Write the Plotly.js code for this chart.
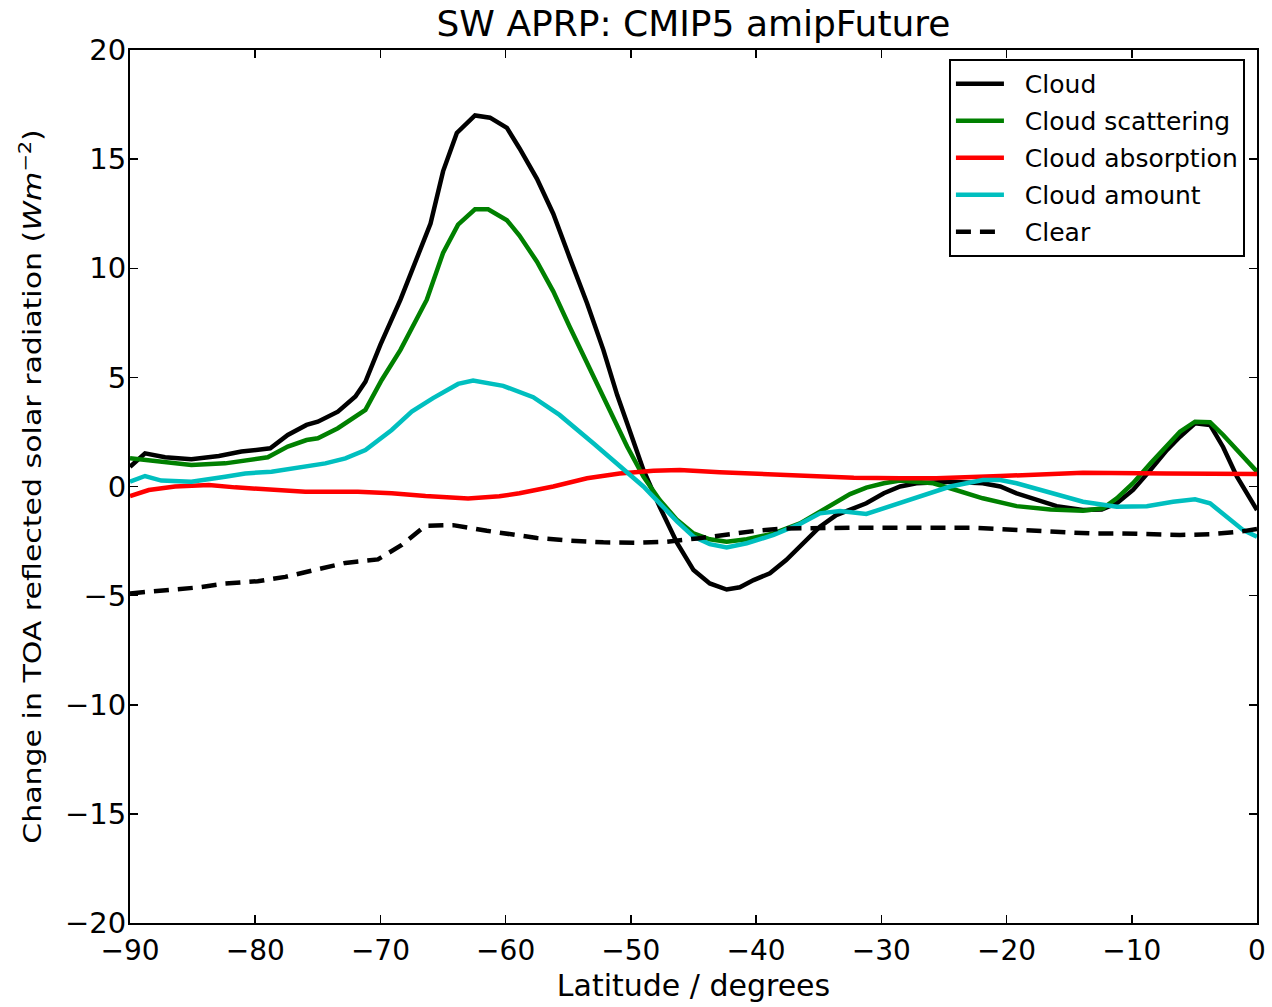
<!DOCTYPE html>
<html>
<head>
<meta charset="utf-8">
<script src="https://cdn.plot.ly/plotly-3.0.1.min.js"></script>
<style>
  html, body { margin: 0; padding: 0; background: #fff; }
  #chart { width: 1272px; height: 1007px; }
</style>
</head>
<body>
<div id="chart"></div>
<script>
// Shortwave APRP decomposition, zonal mean change (W m-2) vs latitude

const latCloud = [-90, -88.8, -87.2, -85.1, -82.9, -81.1, -78.8, -77.4, -75.9, -75.0, -73.4, -72.0, -71.2, -70.0, -68.4, -67.1, -66.0, -65.0, -63.9, -62.45, -61.25, -59.9, -58.9, -57.5, -56.2, -54.9, -53.5, -52.2, -51.1, -50.3, -49.0, -47.7, -46.3, -45.0, -43.7, -42.35, -41.3, -40.2, -38.9, -37.6, -36.2, -34.9, -33.6, -32.0, -31.2, -29.8, -28.5, -27.2, -24.5, -21.9, -20.5, -19.2, -17.6, -16.0, -13.9, -12.4, -11.2, -9.9, -8.5, -7.2, -6.15, -4.95, -3.75, -2.7, -1.6, -0.8, 0];
const cloud = [0.9, 1.52, 1.34, 1.25, 1.4, 1.6, 1.75, 2.36, 2.82, 2.97, 3.43, 4.12, 4.8, 6.5, 8.56, 10.4, 12.05, 14.44, 16.2, 17.0, 16.9, 16.43, 15.5, 14.1, 12.5, 10.5, 8.4, 6.26, 4.2, 2.9, 0.76, -0.93, -2.6, -3.83, -4.44, -4.72, -4.62, -4.29, -3.98, -3.37, -2.6, -1.84, -1.31, -0.95, -0.77, -0.31, 0, 0.15, 0.22, 0.15, 0, -0.31, -0.62, -0.9, -1.08, -1.05, -0.77, -0.16, 0.76, 1.67, 2.28, 2.9, 2.82, 1.8, 0.45, -0.31, -1.08];

const latScat = [-90, -87.7, -85.1, -82.4, -79.0, -77.4, -75.9, -75.0, -73.4, -71.2, -69.9, -68.4, -66.3, -65.0, -63.8, -62.45, -61.4, -59.9, -58.9, -57.5, -56.2, -54.9, -53.5, -52.5, -51.67, -50.3, -49.0, -47.7, -46.3, -45.0, -43.7, -42.35, -40.75, -38.6, -36.5, -34.4, -32.5, -31.2, -29.8, -28.5, -25.85, -24.5, -21.9, -19.2, -16.5, -13.9, -12.3, -11.2, -9.9, -8.5, -7.2, -6.15, -4.95, -3.75, -2.7, -1.33, 0];
const cloudScattering = [1.29, 1.14, 0.99, 1.06, 1.34, 1.83, 2.13, 2.21, 2.67, 3.51, 4.88, 6.26, 8.56, 10.7, 12.0, 12.7, 12.7, 12.2, 11.5, 10.3, 8.94, 7.33, 5.65, 4.4, 3.36, 1.83, 0.45, -0.62, -1.54, -2.15, -2.42, -2.53, -2.42, -2.15, -1.69, -1.0, -0.35, -0.05, 0.15, 0.27, 0.15, -0.08, -0.54, -0.9, -1.05, -1.11, -1.0, -0.54, 0.15, 1.06, 1.9, 2.51, 2.97, 2.94, 2.36, 1.52, 0.68];

const latAbs = [-90, -88.5, -86.4, -83.7, -81.6, -78.4, -76.0, -71.8, -69.1, -66.4, -63.0, -60.5, -58.9, -56.2, -53.5, -50.9, -48.2, -46.1, -42.9, -37.6, -32.2, -28.5, -25.6, -20.5, -13.9, -7.2, 0];
const cloudAbsorption = [-0.44, -0.16, 0, 0.07, -0.04, -0.16, -0.24, -0.24, -0.31, -0.44, -0.55, -0.45, -0.31, 0, 0.38, 0.6, 0.72, 0.76, 0.65, 0.53, 0.4, 0.38, 0.38, 0.48, 0.63, 0.6, 0.57];

const latAmt = [-90, -88.8, -87.5, -85.1, -82.4, -80.8, -78.7, -76.6, -74.4, -72.8, -71.2, -69.1, -67.5, -65.8, -63.8, -62.6, -60.2, -57.8, -55.7, -53.0, -50.3, -49.0, -47.7, -46.3, -45.0, -43.7, -42.35, -40.75, -38.6, -36.5, -34.9, -33.3, -31.2, -29.8, -27.2, -24.5, -21.9, -20.5, -19.2, -16.5, -13.9, -11.2, -8.8, -6.7, -4.95, -3.75, -2.4, -1.1, 0];
const cloudAmount = [0.22, 0.48, 0.27, 0.22, 0.45, 0.6, 0.68, 0.88, 1.06, 1.29, 1.67, 2.59, 3.43, 4.05, 4.7, 4.85, 4.61, 4.09, 3.28, 1.98, 0.6, 0, -0.77, -1.61, -2.3, -2.64, -2.79, -2.6, -2.22, -1.72, -1.23, -1.12, -1.26, -1.0, -0.54, 0, 0.3, 0.3, 0.15, -0.31, -0.7, -0.93, -0.9, -0.7, -0.59, -0.77, -1.39, -2.0, -2.3];

const latClear = [-90, -87.2, -84.5, -82.4, -79.8, -77.6, -75.2, -72.8, -70.2, -68.3, -66.4, -64.2, -61.5, -57.5, -54.9, -52.2, -49.5, -47.1, -44.7, -42.35, -40.0, -37.6, -35.2, -32.5, -27.2, -22.9, -20.5, -18.1, -15.7, -13.3, -10.9, -8.5, -6.15, -3.75, -1.33, 0];
const clear = [-4.9, -4.78, -4.62, -4.44, -4.34, -4.14, -3.83, -3.5, -3.34, -2.68, -1.8, -1.77, -2.03, -2.36, -2.48, -2.56, -2.58, -2.53, -2.38, -2.19, -2.03, -1.92, -1.89, -1.89, -1.89, -1.89, -1.95, -2.03, -2.1, -2.15, -2.15, -2.18, -2.22, -2.19, -2.07, -1.95];

const FONT = 'DejaVu Sans, Verdana, sans-serif';
const PAD = '\u00a0\u00a0';   // gap between legend swatch and label

function series(x, y, name, color, dash) {
  return {
    type: 'scatter', mode: 'lines', x: x, y: y, name: PAD + name, legendgroup: name,
    line: { color: color, width: 4.5, dash: dash || 'solid' }
  };
}

const traces = [
  series(latCloud, cloud, 'Cloud', '#000000'),
  series(latScat, cloudScattering, 'Cloud scattering', '#008000'),
  series(latAbs, cloudAbsorption, 'Cloud absorption', '#ff0000'),
  series(latAmt, cloudAmount, 'Cloud amount', '#00bfbf'),
  series(latClear, clear, 'Clear', '#000000', '15px,9px')
];

const axisCommon = {
  showline: true, linecolor: '#000', linewidth: 2, mirror: 'ticks',
  ticks: 'inside', ticklen: 8, tickwidth: 1.5, tickcolor: '#000',
  showgrid: false, zeroline: false
};

const layout = {
  width: 1272, height: 1007,
  margin: { l: 130, r: 15, t: 50, b: 84 },
  paper_bgcolor: '#fff', plot_bgcolor: '#fff',
  font: { family: FONT, color: '#000' },
  title: {
    text: 'SW APRP: CMIP5 amipFuture',
    font: { family: FONT, size: 36, color: '#000' },
    x: 0.5, xref: 'paper', xanchor: 'center',
    y: 0.977, yref: 'container', yanchor: 'middle'
  },
  xaxis: Object.assign({}, axisCommon, {
    range: [-90, 0], tickmode: 'array',
    tickvals: [-90, -80, -70, -60, -50, -40, -30, -20, -10, 0],
    ticktext: ['\u221290', '\u221280', '\u221270', '\u221260', '\u221250', '\u221240', '\u221230', '\u221220', '\u221210', '0'],
    tickfont: { family: FONT, size: 28, color: '#000' },
    ticklabelstandoff: 1,
    title: { text: 'Latitude / degrees', font: { family: FONT, size: 30, color: '#000' }, standoff: 9 }
  }),
  yaxis: Object.assign({}, axisCommon, {
    range: [-20, 20], tickmode: 'array',
    tickvals: [-20, -15, -10, -5, 0, 5, 10, 15, 20],
    ticktext: ['\u221220', '\u221215', '\u221210', '\u22125', '0', '5', '10', '15', '20'],
    tickfont: { family: FONT, size: 29, color: '#000' },
    ticklabelstandoff: -4,
    title: {
      text: 'Change in TOA reflected solar radiation (<i>Wm</i><sup>\u22122</sup>)',
      font: { family: FONT, size: 30, color: '#000' },
      standoff: 12
    }
  }),
  legend: {
    x: 0.9893, y: 0.9897, xanchor: 'right', yanchor: 'top',
    xref: 'paper', yref: 'paper',
    bgcolor: '#fff', bordercolor: '#000', borderwidth: 2,
    font: { family: FONT, size: 25, color: '#000' },
    tracegroupgap: 1.5, itemwidth: 48
  },
  showlegend: true
};

Plotly.newPlot('chart', traces, layout, { staticPlot: true, displayModeBar: false }).then(function (gd) {
  // narrow the rotated y-axis label across its thickness so it reads as a condensed face
  const t = gd.querySelector('text.ytitle');
  if (t) {
    const bb = t.getBoundingClientRect();
    const cx = bb.left + bb.width / 2;
    const prev = t.getAttribute('transform') || '';
    t.setAttribute('transform', 'translate(' + cx + ',0) scale(0.8,1) translate(' + (-cx) + ',0) ' + prev);
  }
});
</script>
</body>
</html>
